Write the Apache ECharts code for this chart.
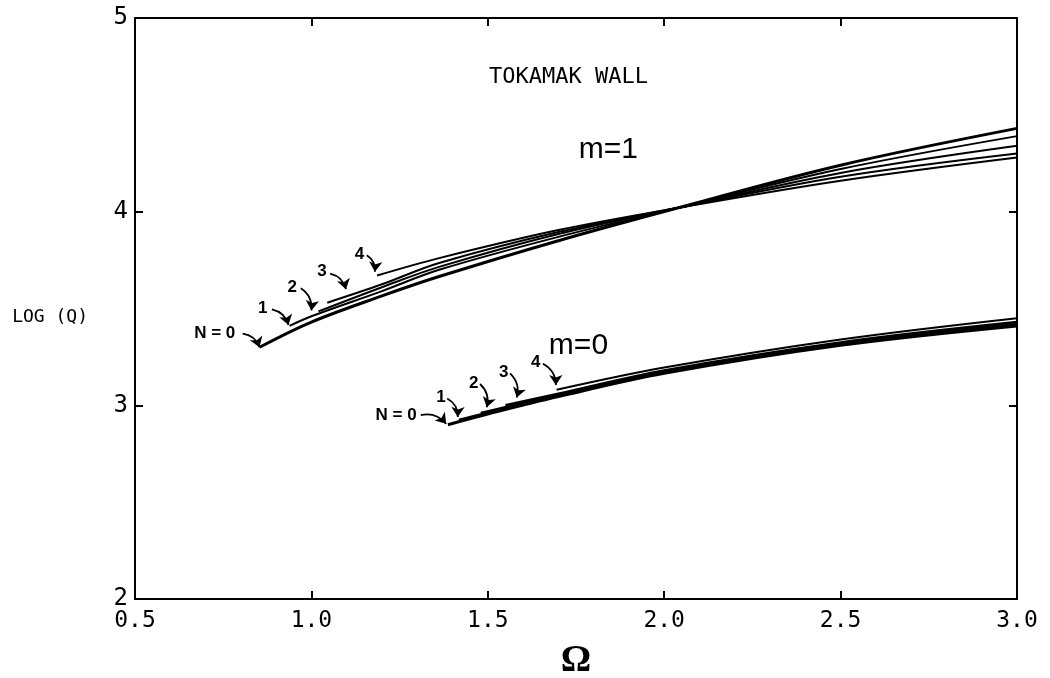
<!DOCTYPE html>
<html>
<head>
<meta charset="utf-8">
<script src="https://cdn.jsdelivr.net/npm/echarts@6/dist/echarts.min.js"></script>
<style>
  html, body { margin: 0; padding: 0; background: #fff; }
  #chart { width: 1050px; height: 678px; }
</style>
</head>
<body>
<div id="chart"></div>
<script>
// Axis ticks
const xTicks = [0.5, 1.0, 1.5, 2.0, 2.5, 3.0];
const yTicks = [2, 3, 4, 5];

// m = 1 curves, [Omega, log Q], one per N
const m1_N0 = [[0.853, 3.30], [1.0, 3.43], [1.2, 3.565], [1.362, 3.665], [1.7, 3.85], [2.04, 4.02], [2.5, 4.24], [3.0, 4.43]];
const m1_N1 = [[0.938, 3.41], [1.0, 3.46], [1.2, 3.59], [1.362, 3.70], [1.7, 3.87], [2.04, 4.02], [2.5, 4.22], [3.0, 4.39]];
const m1_N2 = [[1.02, 3.485], [1.2, 3.61], [1.362, 3.715], [1.7, 3.885], [2.04, 4.02], [2.5, 4.20], [3.0, 4.34]];
const m1_N3 = [[1.045, 3.53], [1.2, 3.625], [1.362, 3.735], [1.7, 3.895], [2.04, 4.02], [2.5, 4.18], [3.0, 4.30]];
const m1_N4 = [[1.186, 3.67], [1.362, 3.76], [1.7, 3.905], [2.04, 4.02], [2.5, 4.16], [3.0, 4.28]];

// m = 0 curves
const m0_N0 = [[1.387, 2.90], [1.5, 2.955], [1.7, 3.045], [2.0, 3.165], [2.5, 3.31], [3.0, 3.41]];
const m0_N1 = [[1.418, 2.925], [1.5, 2.962], [1.7, 3.05], [2.0, 3.17], [2.5, 3.315], [3.0, 3.415]];
const m0_N2 = [[1.48, 2.96], [1.7, 3.055], [2.0, 3.175], [2.5, 3.32], [3.0, 3.42]];
const m0_N3 = [[1.55, 3.00], [1.7, 3.06], [2.0, 3.18], [2.5, 3.325], [3.0, 3.43]];
const m0_N4 = [[1.695, 3.08], [2.0, 3.195], [2.5, 3.34], [3.0, 3.45]];

// Curve labels: text, label anchor [Omega, logQ], arrow start, arrow tip
const m1Labels = [
  ['N = 0', [0.726, 3.37], [0.805, 3.37], [0.853, 3.30]],
  ['1', [0.862, 3.50], [0.888, 3.495], [0.935, 3.415]],
  ['2', [0.946, 3.61], [0.97, 3.605], [1.00, 3.49]],
  ['3', [1.03, 3.69], [1.053, 3.68], [1.098, 3.60]],
  ['4', [1.136, 3.78], [1.157, 3.775], [1.18, 3.69]]
];
const m0Labels = [
  ['N = 0', [1.24, 2.95], [1.31, 2.95], [1.382, 2.905]],
  ['1', [1.367, 3.04], [1.385, 3.035], [1.415, 2.94]],
  ['2', [1.46, 3.115], [1.478, 3.11], [1.497, 2.99]],
  ['3', [1.545, 3.17], [1.563, 3.165], [1.582, 3.04]],
  ['4', [1.636, 3.22], [1.656, 3.215], [1.693, 3.105]]
];

// Free text placed in data coordinates
const textNotes = [
  ['TOKAMAK WALL', [1.729, 4.695], 'mono'],
  ['m=1', [1.842, 4.32], 'big'],
  ['m=0', [1.757, 3.31], 'big']
];

const chart = echarts.init(document.getElementById('chart'), null, { renderer: 'canvas' });

const monoFont = '"DejaVu Sans Mono", "Liberation Mono", monospace';
const sansFont = '"Liberation Sans", Arial, sans-serif';

function curve(name, data, width) {
  return {
    name: name,
    type: 'line',
    data: data,
    smooth: 0.35,
    showSymbol: false,
    symbol: 'none',
    lineStyle: { color: '#000', width: width },
    silent: true,
    z: 3
  };
}

function textLabel(text, font, size, weight) {
  return {
    show: true, position: 'inside', formatter: text,
    color: '#000', opacity: 1,
    textBorderWidth: 0, textBorderColor: 'transparent',
    fontFamily: font, fontWeight: weight, fontSize: size
  };
}

function labelSeries(list, name) {
  return {
    name: name,
    type: 'scatter',
    symbolSize: 0,
    itemStyle: { color: 'rgba(0,0,0,0)' },
    silent: true,
    data: list.map(d => ({
      value: d[1],
      name: d[0],
      label: textLabel(d[0], sansFont, 17, 'bold')
    })),
    z: 5
  };
}

function arrowSeries(list, name) {
  return {
    name: name,
    type: 'lines',
    coordinateSystem: 'cartesian2d',
    silent: true,
    symbol: ['none', 'arrow'],
    symbolSize: [0, 10],
    lineStyle: { color: '#000', width: 1.8, curveness: 0.3, opacity: 1 },
    data: list.map(d => ({ coords: [d[2], d[3]] })),
    z: 4
  };
}

const notesSeries = {
  name: 'notes',
  type: 'scatter',
  symbolSize: 0,
  itemStyle: { color: 'rgba(0,0,0,0)' },
  silent: true,
  data: textNotes.map(d => ({
    value: d[1],
    name: d[0],
    label: d[2] === 'mono'
      ? textLabel(d[0], monoFont, 22, 'normal')
      : textLabel(d[0], sansFont, 30, 'normal')
  })),
  z: 5
};

const axisLineStyle = { color: '#000', width: 2 };

const option = {
  backgroundColor: '#fff',
  animation: false,
  grid: { left: 135, right: 33, top: 18, bottom: 79, containLabel: false, outerBoundsMode: 'none' },
  xAxis: [
    {
      type: 'value', min: xTicks[0], max: xTicks[xTicks.length - 1], interval: 0.5,
      position: 'bottom',
      axisLine: { show: true, onZero: false, lineStyle: axisLineStyle },
      axisTick: { show: true, inside: true, length: 8, lineStyle: axisLineStyle },
      axisLabel: {
        color: '#000', fontFamily: monoFont, fontSize: 23, margin: 11,
        formatter: v => v.toFixed(1)
      },
      splitLine: { show: false },
      name: 'Ω', nameLocation: 'middle', nameGap: 43,
      nameTextStyle: { color: '#000', fontFamily: '"Liberation Serif", "DejaVu Serif", serif', fontWeight: 'bold', fontSize: 38 }
    },
    {
      type: 'value', min: xTicks[0], max: xTicks[xTicks.length - 1], interval: 0.5,
      position: 'top',
      axisLine: { show: true, onZero: false, lineStyle: axisLineStyle },
      axisTick: { show: true, inside: true, length: 8, lineStyle: axisLineStyle },
      axisLabel: { show: false },
      splitLine: { show: false }
    }
  ],
  yAxis: [
    {
      type: 'value', min: yTicks[0], max: yTicks[yTicks.length - 1], interval: 1,
      position: 'left',
      axisLine: { show: true, onZero: false, lineStyle: axisLineStyle },
      axisTick: { show: true, inside: true, length: 8, lineStyle: axisLineStyle },
      axisLabel: { color: '#000', fontFamily: monoFont, fontSize: 24, margin: 7 },
      splitLine: { show: false },
      name: 'LOG (Q)', nameLocation: 'middle', nameRotate: 0, nameGap: 47,
      nameTextStyle: {
        color: '#000', fontFamily: monoFont, fontSize: 18, align: 'right', verticalAlign: 'top'
      }
    },
    {
      type: 'value', min: yTicks[0], max: yTicks[yTicks.length - 1], interval: 1,
      position: 'right',
      axisLine: { show: true, onZero: false, lineStyle: axisLineStyle },
      axisTick: { show: true, inside: true, length: 8, lineStyle: axisLineStyle },
      axisLabel: { show: false },
      splitLine: { show: false }
    }
  ],
  series: [
    curve('m1 N0', m1_N0, 3),
    curve('m1 N1', m1_N1, 2),
    curve('m1 N2', m1_N2, 2),
    curve('m1 N3', m1_N3, 2),
    curve('m1 N4', m1_N4, 2),
    curve('m0 N0', m0_N0, 3),
    curve('m0 N1', m0_N1, 2.5),
    curve('m0 N2', m0_N2, 2.5),
    curve('m0 N3', m0_N3, 2.5),
    curve('m0 N4', m0_N4, 2),
    labelSeries(m1Labels, 'm1 labels'),
    labelSeries(m0Labels, 'm0 labels'),
    arrowSeries(m1Labels, 'm1 arrows'),
    arrowSeries(m0Labels, 'm0 arrows'),
    notesSeries
  ]
};

chart.setOption(option);
</script>
</body>
</html>
